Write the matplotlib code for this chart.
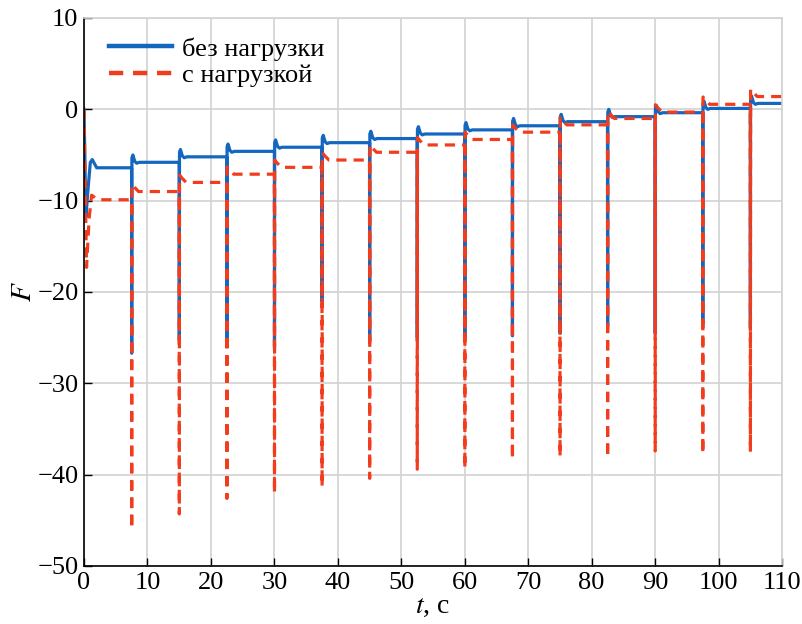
import numpy as np
import matplotlib
matplotlib.use("Agg")
import matplotlib.pyplot as plt

# spike instants, s
t_spike = [7.5, 15, 22.5, 30, 37.5, 45, 52.5, 60, 67.5, 75, 82.5, 90, 97.5, 105]

# plateau levels (before first spike, then after each spike)
blue_level = [-6.4, -5.8, -5.2, -4.6, -4.15, -3.65, -3.2, -2.7, -2.25, -1.8,
              -1.35, -0.8, -0.37, 0.1, 0.65]
red_level = [-9.9, -9.0, -8.0, -7.1, -6.35, -5.55, -4.7, -3.9, -3.3, -2.5,
             -1.7, -1.0, -0.3, 0.55, 1.4]

# spike minima
blue_min = [-26.7, -25.3, -25.6, -26.0, -21.1, -25.4, -25.0, -24.9, -24.8,
            -24.5, -23.8, -24.5, -23.5, -24.0]
red_min = [-45.9, -44.3, -42.6, -42.0, -41.3, -40.4, -39.4, -39.3, -38.3,
           -38.0, -38.1, -37.4, -37.7, -37.5]

# start transient
blue_t0 = [0.0, 0.3, 0.6, 1.0, 1.3, 2.0]
blue_f0 = [0.0, -11.8, -9.0, -5.8, -5.5, -6.4]
red_t0 = [0.0, 0.4, 0.8, 1.2, 2.2]
red_f0 = [0.0, -17.3, -12.0, -9.4, -9.9]

# shape of the small bump after each spike (offsets from spike / plateau)
blue_bump_dt = [0.05, 0.2, 0.5, 0.8, 1.2]
blue_bump_df = [0.5, 0.8, 0.1, -0.1, 0.0]
red_bump_dt = [0.05, 0.4, 1.1]
red_bump_df = [0.8, 0.5, 0.0]

t_end = 110


def build(t0, f0, level, fmin, bdt, bdf):
    t = list(t0)
    f = list(f0)
    for k, ts in enumerate(t_spike):
        t += [ts, ts + 0.02]
        f += [level[k], fmin[k]]
        for dt, df in zip(bdt, bdf):
            t.append(ts + dt)
            f.append(level[k + 1] + df)
    t.append(t_end)
    f.append(level[-1])
    return np.array(t), np.array(f)


tb, fb = build(blue_t0, blue_f0, blue_level, blue_min, blue_bump_dt, blue_bump_df)
tr, fr = build(red_t0, red_f0, red_level, red_min, red_bump_dt, red_bump_df)

plt.rcParams["font.family"] = ["Liberation Serif", "DejaVu Serif"]
plt.rcParams["mathtext.fontset"] = "stix"

fig = plt.figure(figsize=(8.03, 6.24), dpi=100)
ax = fig.add_axes([84 / 803, 1 - 566 / 624, (782 - 84) / 803, (566 - 18) / 624])

blue = "#1467be"
red = "#f23c1e"
ax.plot(tb, fb, color=blue, lw=2.3, label="без нагрузки")
ax.plot(tr, fr, color=red, lw=2.3, dashes=(3.2, 2.2), label="с нагрузкой")

ax.set_xlim(0, 110)
ax.set_ylim(-50, 10)
ax.set_xticks(np.arange(0, 111, 10))
ax.set_yticks(np.arange(-50, 11, 10))
ax.grid(True, color="#d2d2d2", lw=1.2)
ax.set_axisbelow(True)
ax.tick_params(direction="in", length=6, width=1, labelsize=19, colors="black",
               pad=4)
for s in ["top", "right"]:
    ax.spines[s].set_color("#d2d2d2")
    ax.spines[s].set_linewidth(1.2)
for s in ["left", "bottom"]:
    ax.spines[s].set_linewidth(1.2)

ax.set_xlabel("$t$, с", fontsize=20, labelpad=0)
ax.set_ylabel("$F$", fontsize=21)
ax.yaxis.set_label_coords(-0.067, 0.5)

leg = ax.legend(loc="upper left", bbox_to_anchor=(0.036, 0.965), frameon=False,
                fontsize=19, handlelength=2.4, handletextpad=0.35,
                labelspacing=0.1, borderaxespad=0, borderpad=0)
for h in leg.get_lines():
    h.set_linewidth(3.2)

fig.savefig("out.png", dpi=100)
